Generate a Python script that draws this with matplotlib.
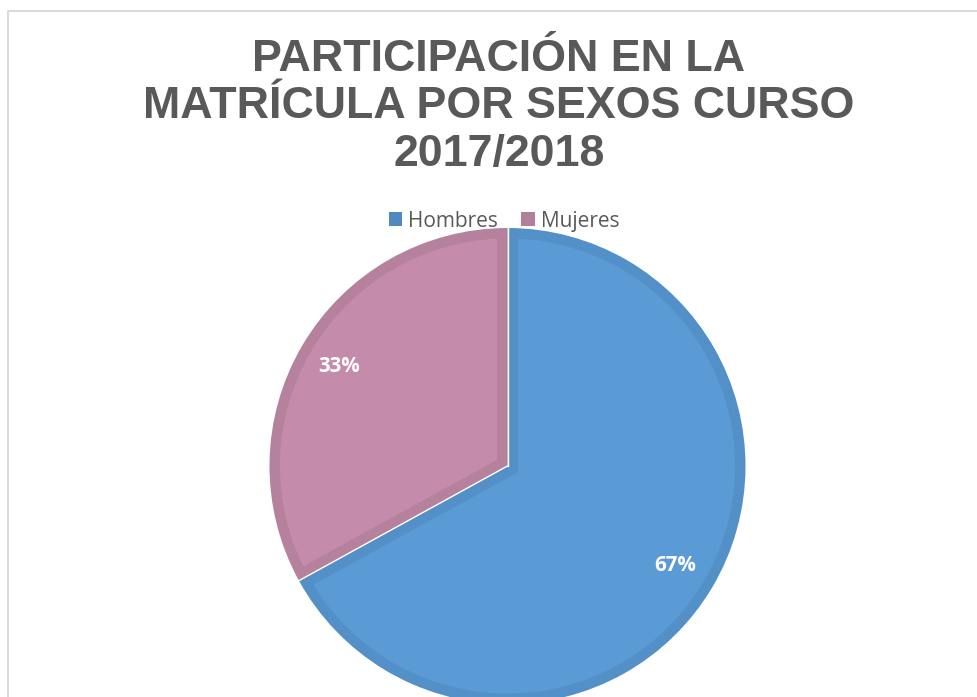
import matplotlib
matplotlib.use("Agg")
import matplotlib.pyplot as plt
from matplotlib.patches import Patch, Polygon
import numpy as np

# ---- data ----
categories = ["Hombres", "Mujeres"]
values = [67, 33]
title_lines = ["PARTICIPACIÓN EN LA", "MATRÍCULA POR SEXOS CURSO", "2017/2018"]

light_colors = ["#5B9BD5", "#C48CAA"]
dark_colors = ["#5490C8", "#B6819D"]
legend_colors = ["#5089C2", "#B17F9A"]

W, H = 977, 697
fig = plt.figure(figsize=(W / 100, H / 100), dpi=100)
ax = fig.add_axes([0, 0, 1, 1])

cx, cy = 507.5, H - 466
R = 238
band = 10.5

wedges, _, autotexts = ax.pie(
    values, center=(cx, cy), radius=R, startangle=90, counterclock=False,
    colors=dark_colors, autopct="%1.0f%%", pctdistance=0.82,
    wedgeprops=dict(linewidth=0),
    textprops=dict(color="white", fontsize=14.8, fontweight="bold", family="Open Sans"),
)

# lighter inset face of each wedge (bevel look)
ri = R - band
delta = np.degrees(np.arcsin(band / ri))
for w, c in zip(wedges, light_colors):
    a1, a2 = w.theta1, w.theta2
    span = a2 - a1
    mid = np.deg2rad((a1 + a2) / 2)
    dcorner = band / np.sin(np.deg2rad(span / 2))
    corner = (cx + dcorner * np.cos(mid), cy + dcorner * np.sin(mid))
    ts = np.deg2rad(np.linspace(a1 + delta, a2 - delta, 300))
    pts = [corner] + list(zip(cx + ri * np.cos(ts), cy + ri * np.sin(ts)))
    ax.add_patch(Polygon(pts, closed=True, facecolor=c, edgecolor="none", zorder=2))

for w in wedges:
    t = np.deg2rad(w.theta1)
    ax.plot([cx, cx + R * np.cos(t)], [cy, cy + R * np.sin(t)],
            color="white", lw=1.0, zorder=4)

for t in autotexts:
    t.set_zorder(6)

ax.set_xlim(0, W)
ax.set_ylim(0, H)
ax.set_aspect("auto")
ax.axis("off")

# border
ax.plot([7.5, 7.5, W + 5], [-5, H - 10.5, H - 10.5], color="#D9D9D9", lw=1.4,
        clip_on=False, zorder=1)

# title
fig.text(499 / W, 1 - 107 / H, "\n".join(title_lines), ha="center", va="center",
         fontsize=32.2, fontweight="bold", color="#595959",
         family="Liberation Sans", linespacing=1.19)

handles = [Patch(facecolor=c, edgecolor="none") for c in legend_colors]
fig.legend(handles, categories, loc="center", bbox_to_anchor=(504 / W, 1 - 221 / H),
           ncol=2, frameon=False, prop=dict(family="Open Sans", size=15),
           labelcolor="#595959", handlelength=0.65, handleheight=0.65,
           handletextpad=0.3, columnspacing=1.1, borderpad=0, borderaxespad=0)

fig.savefig("out.png", dpi=100)
